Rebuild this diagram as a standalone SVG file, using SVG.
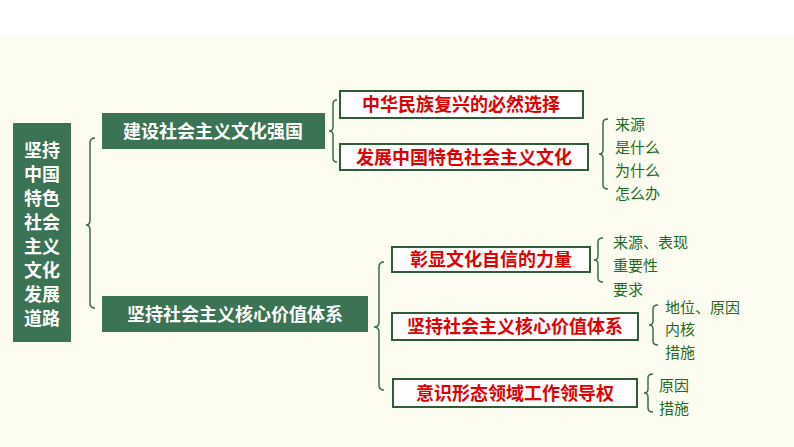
<svg xmlns="http://www.w3.org/2000/svg" width="794" height="447" viewBox="0 0 794 447">
<style>
.g{fill:#3b7454}
.gt{fill:#fff;font-family:"Noto Sans CJK SC",sans-serif;font-weight:bold;font-size:18px}
.rb{fill:#fff;stroke:#2f5d3a;stroke-width:2}
.rt{fill:#e00000;font-family:"Noto Sans CJK SC",sans-serif;font-weight:bold;font-size:18px}
.st{fill:#1f6a1f;font-family:"Noto Sans CJK SC",sans-serif;font-size:15px}
.br{fill:none;stroke:#3a6e4a;stroke-width:1.5}
</style>
<rect width="794" height="447" fill="#fff"/>
<rect y="35" width="794" height="412" fill="#fcfcf1"/>
<g id="root"><rect class="g" x="13" y="123" width="58" height="219"/>
<text class="gt" x="42" text-anchor="middle" font-size="20"><tspan x="42" y="157">坚持</tspan><tspan x="42" y="181">中国</tspan><tspan x="42" y="205">特色</tspan><tspan x="42" y="229">社会</tspan><tspan x="42" y="253">主义</tspan><tspan x="42" y="277">文化</tspan><tspan x="42" y="301">发展</tspan><tspan x="42" y="325">道路</tspan></text></g>
<g id="n1"><rect class="g" x="102" y="113" width="223" height="36"/><text class="gt" x="213" y="138" text-anchor="middle">建设社会主义文化强国</text></g>
<g id="n2"><rect class="g" x="102" y="296" width="266" height="36"/><text class="gt" x="235" y="321" text-anchor="middle">坚持社会主义核心价值体系</text></g>
<g id="r1"><rect class="rb" x="340" y="91" width="243" height="27"/><text class="rt" x="461" y="111" text-anchor="middle">中华民族复兴的必然选择</text></g>
<g id="r2"><rect class="rb" x="340" y="144" width="248" height="26"/><text class="rt" x="464" y="164" text-anchor="middle">发展中国特色社会主义文化</text></g>
<g id="r3"><rect class="rb" x="392" y="247" width="198" height="25"/><text class="rt" x="491" y="266" text-anchor="middle">彰显文化自信的力量</text></g>
<g id="r4"><rect class="rb" x="392" y="313" width="246" height="27"/><text class="rt" x="515" y="333" text-anchor="middle">坚持社会主义核心价值体系</text></g>
<g id="r5"><rect class="rb" x="393" y="379" width="244" height="28"/><text class="rt" x="515" y="400" text-anchor="middle">意识形态领域工作领导权</text></g>
<g id="leaves">
<text class="st" x="615" y="130">来源</text><text class="st" x="615" y="153">是什么</text><text class="st" x="615" y="176">为什么</text><text class="st" x="615" y="199">怎么办</text>
<text class="st" x="613" y="248">来源、表现</text><text class="st" x="613" y="271">重要性</text><text class="st" x="613" y="295">要求</text>
<text class="st" x="665" y="313">地位、原因</text><text class="st" x="665" y="335">内核</text><text class="st" x="665" y="358">措施</text>
<text class="st" x="659" y="391">原因</text><text class="st" x="659" y="414">措施</text>
</g>
<g id="connectors">
<path class="br" d="M95,138 Q90,138 90,143 L90,220 Q90,225 86,225 Q90,225 90,230 L90,303 Q90,308 95,308"/>
<path class="br" d="M337,100 Q333,100 333,104 L333,127 Q333,131 329,131 Q333,131 333,135 L333,158 Q333,162 337,162"/>
<path class="br" d="M384,262 Q379,262 379,267 L379,322 Q379,327 374,327 Q379,327 379,332 L379,385 Q379,390 384,390"/>
<path class="br" d="M608,119 Q603,119 603,123 L603,150 Q603,154 599,154 Q603,154 603,158 L603,185 Q603,189 608,189"/>
<path class="br" d="M603,238 Q598,238 598,242 L598,256 Q598,260 594,260 Q598,260 598,264 L598,278 Q598,282 603,282"/>
<path class="br" d="M658,305 Q653,305 653,309 L653,321 Q653,325 649,325 Q653,325 653,329 L653,341 Q653,345 658,345"/>
<path class="br" d="M653,374 Q648,374 648,378 L648,389 Q648,393 644,393 Q648,393 648,397 L648,408 Q648,412 653,412"/>
</g>
</svg>
